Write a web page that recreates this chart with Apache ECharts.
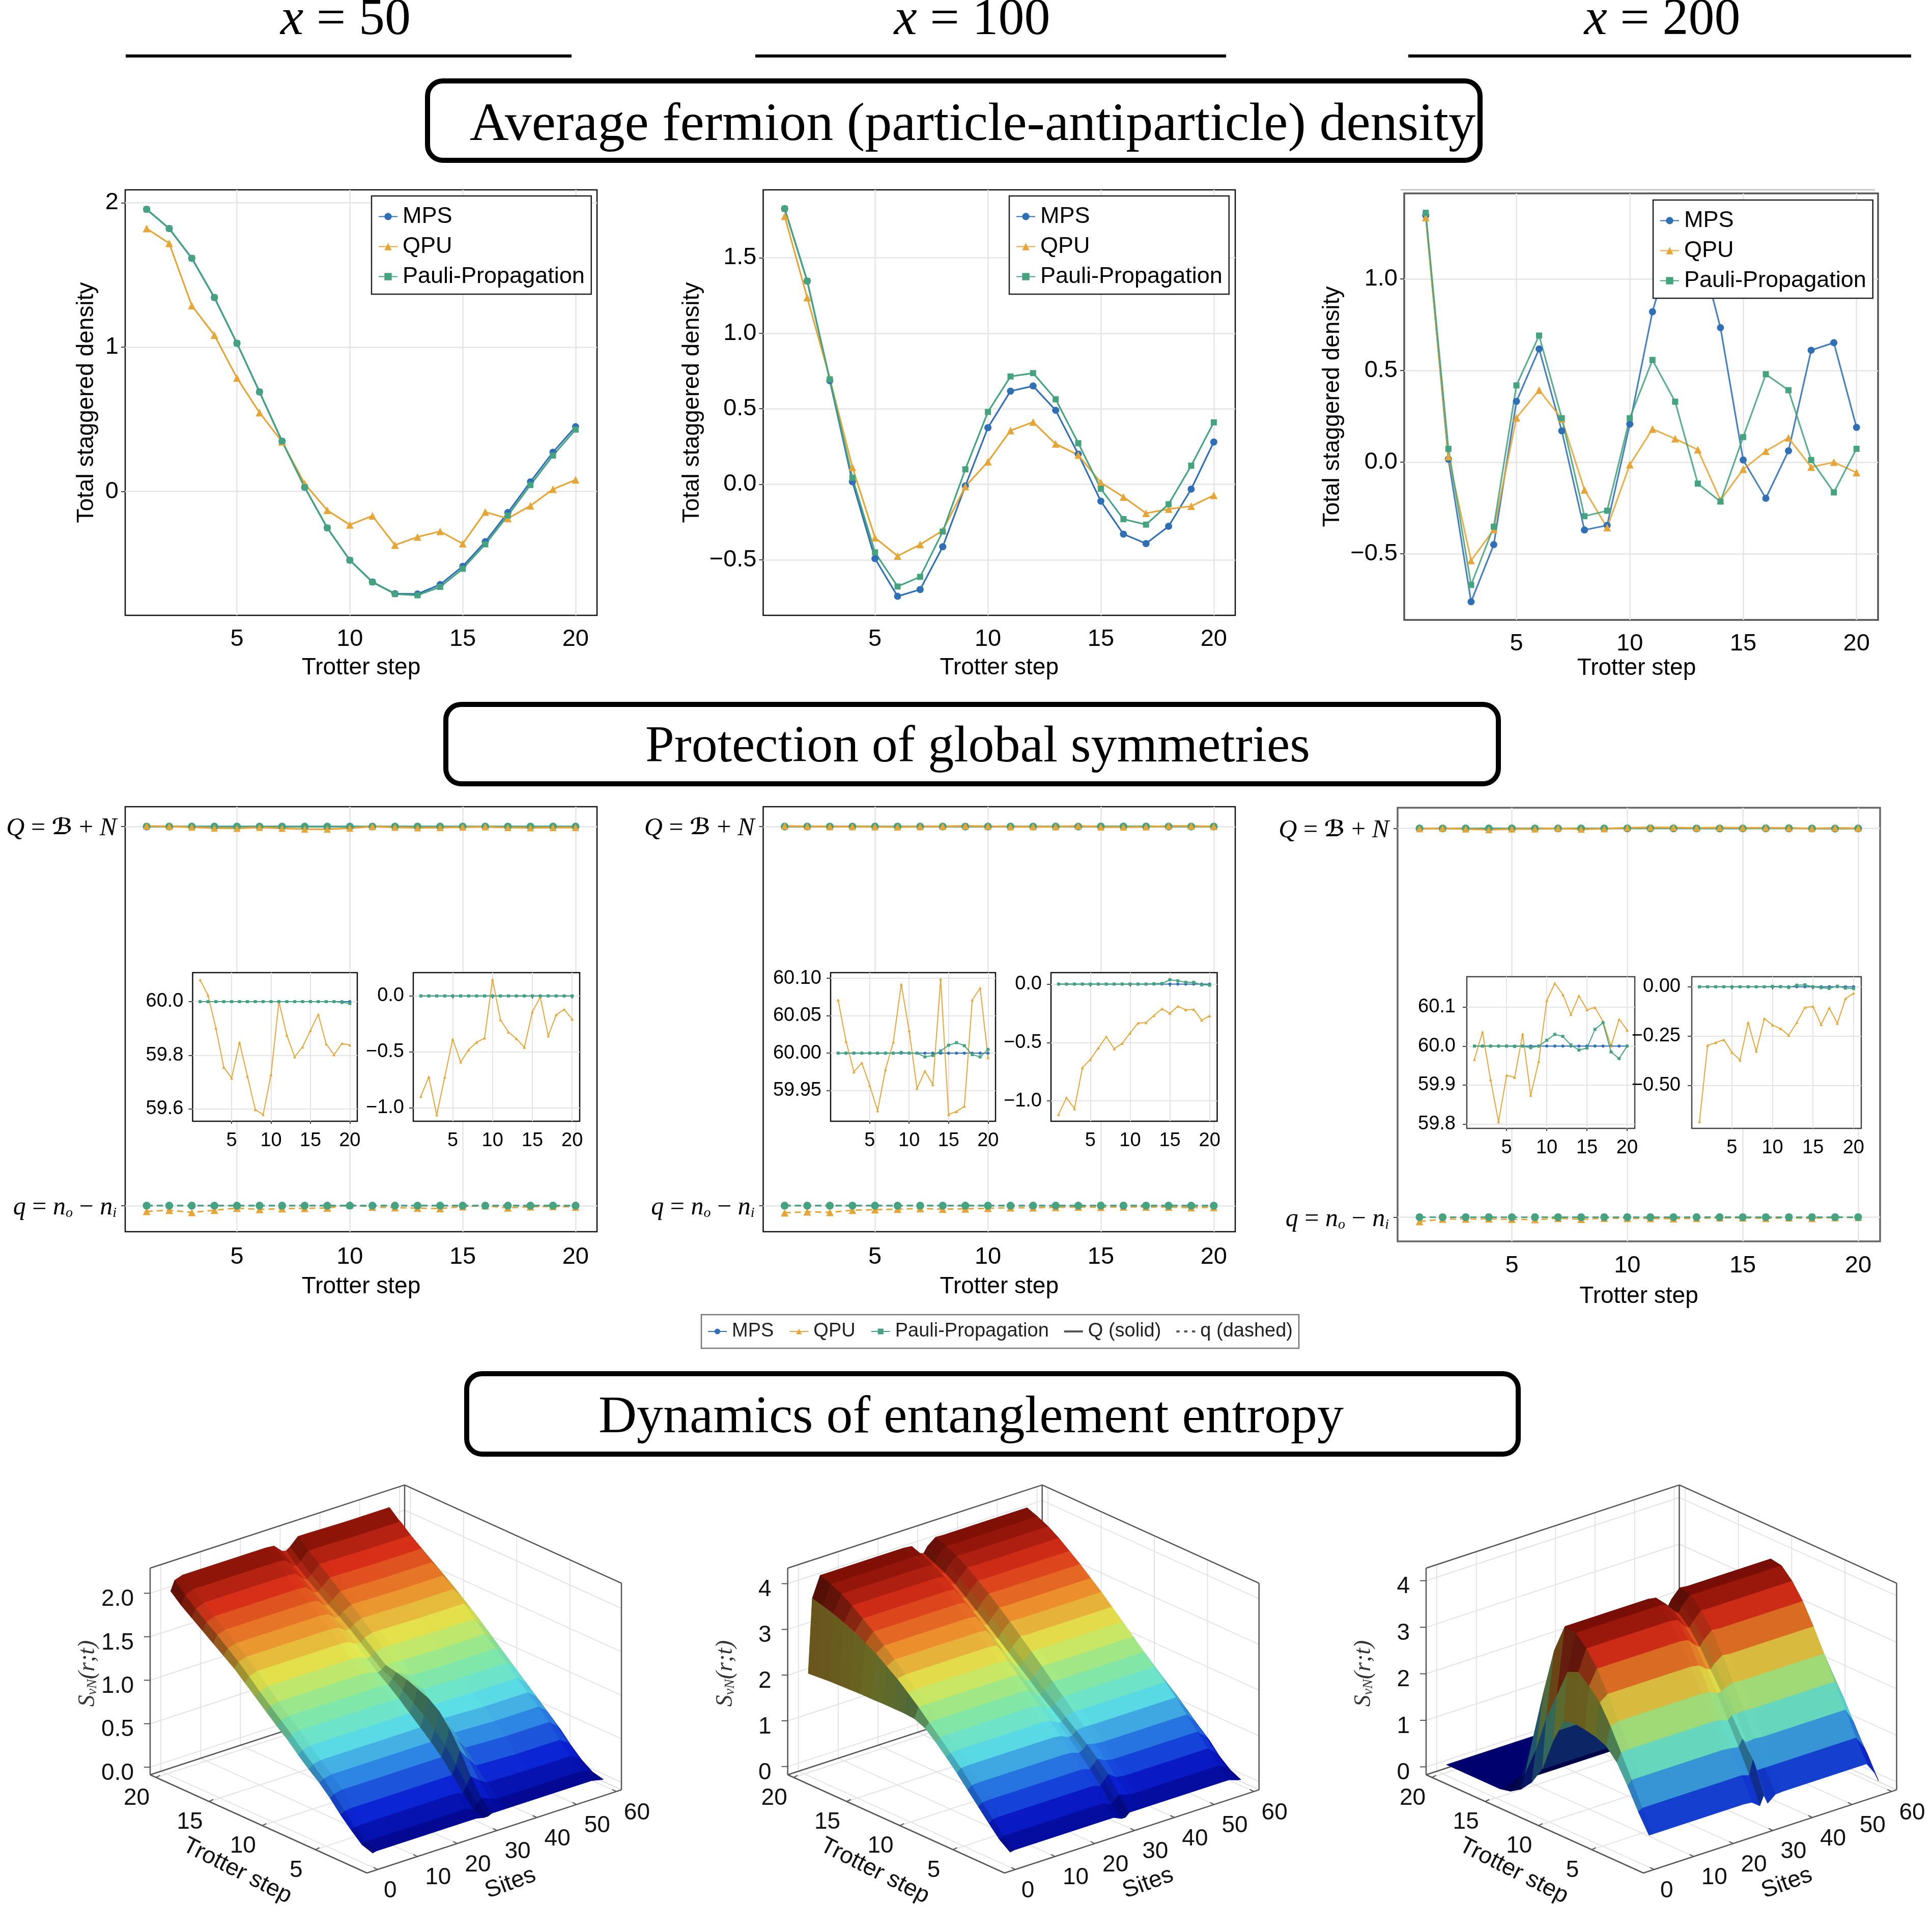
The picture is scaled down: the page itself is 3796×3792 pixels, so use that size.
<!DOCTYPE html>
<html><head><meta charset="utf-8">
<style>html,body{margin:0;padding:0;background:#fff}#c{width:3796px;height:3792px}</style>
<script src="https://cdn.jsdelivr.net/npm/echarts@6/dist/echarts.min.js"></script>
</head><body><div id="c"></div>
<script>
const steps=[1,2,3,4,5,6,7,8,9,10,11,12,13,14,15,16,17,18,19,20];
const a1_mps=[1.955,1.822,1.616,1.344,1.027,0.69,0.348,0.03,-0.252,-0.476,-0.627,-0.708,-0.71,-0.645,-0.519,-0.348,-0.146,0.067,0.272,0.449];
const a1_qpu=[1.822,1.719,1.288,1.083,0.787,0.546,0.344,0.054,-0.13,-0.231,-0.169,-0.371,-0.315,-0.276,-0.362,-0.142,-0.187,-0.099,0.016,0.081];
const a1_pp=[1.955,1.822,1.616,1.344,1.027,0.69,0.348,0.03,-0.252,-0.476,-0.627,-0.71,-0.719,-0.661,-0.535,-0.366,-0.166,0.045,0.249,0.429];
const a2_mps=[1.825,1.346,0.686,0.017,-0.492,-0.742,-0.697,-0.414,-0.011,0.375,0.617,0.651,0.49,0.2,-0.112,-0.33,-0.393,-0.278,-0.032,0.28];
const a2_qpu=[1.775,1.236,0.701,0.112,-0.354,-0.475,-0.399,-0.306,-0.015,0.149,0.356,0.412,0.267,0.194,0.011,-0.084,-0.192,-0.164,-0.145,-0.073];
const a2_pp=[1.825,1.346,0.695,0.043,-0.451,-0.677,-0.613,-0.313,0.099,0.479,0.714,0.736,0.563,0.272,-0.03,-0.231,-0.267,-0.132,0.123,0.41];
const a3_mps=[1.347,0.016,-0.762,-0.45,0.332,0.618,0.171,-0.37,-0.345,0.208,0.821,1.25,1.21,0.734,0.012,-0.197,0.062,0.611,0.652,0.19];
const a3_qpu=[1.336,0.03,-0.537,-0.368,0.242,0.393,0.236,-0.151,-0.357,-0.014,0.181,0.128,0.068,-0.208,-0.039,0.06,0.133,-0.027,0,-0.057];
const a3_pp=[1.361,0.073,-0.67,-0.352,0.419,0.691,0.24,-0.295,-0.265,0.24,0.558,0.33,-0.117,-0.215,0.137,0.48,0.393,0.012,-0.165,0.073];
const mps_Q=[60,60,60,60,60,60,60,60,60,60,60,60,60,60,60,60,60,60,60,60];
const mps_q=[0,0,0,0,0,0,0,0,0,0,0,0,0,0,0,0,0,0,0,0];
const b1_Q_qpu=[60.081,60.024,59.901,59.755,59.715,59.848,59.722,59.597,59.579,59.728,60,59.875,59.794,59.831,59.892,59.952,59.842,59.802,59.844,59.838];
const b1_Q_pp=[60,60,60,60,60,60,60,60,60,60,60,60,60,60,60,60,60,60,59.997,59.993];
const b1_q_qpu=[-0.898,-0.725,-1.064,-0.725,-0.387,-0.591,-0.482,-0.415,-0.377,0.147,-0.214,-0.323,-0.383,-0.46,-0.144,-0.01,-0.358,-0.169,-0.121,-0.208];
const b1_q_pp=[0,0,0,0,0,0,0,0,0,0,0,0,0,0,0,0,0,0,0,0];
const b2_Q_qpu=[60.071,60.016,59.975,59.987,59.957,59.923,59.978,60.015,60.092,60.03,59.953,59.976,59.958,60.099,59.918,59.922,59.929,60.071,60.087,59.994];
const b2_Q_pp=[60,60,60,60,60,60,60,60,60.001,60,60,59.995,59.997,60.003,60.0105,60.014,60.01,59.998,59.995,60.005];
const b2_q_qpu=[-1.116,-0.972,-1.067,-0.716,-0.645,-0.547,-0.45,-0.554,-0.508,-0.419,-0.333,-0.33,-0.269,-0.211,-0.251,-0.19,-0.22,-0.217,-0.309,-0.272];
const b2_q_pp=[0,0,0,0,0,0,0,0,0,0,0,0,0.003,0.005,0.037,0.028,0.015,0.015,-0.006,-0.009];
const b3_Q_qpu=[59.966,60.036,59.914,59.806,59.925,59.92,60.031,59.874,59.961,60.117,60.161,60.132,60.081,60.129,60.093,60.099,60.063,60,60.069,60.041];
const b3_Q_pp=[60,60,60,60,60,59.999,60,59.996,60,60.015,60.03,60.025,60.003,59.99,59.995,60.043,60.06,59.985,59.968,60];
const b3_q_qpu=[-0.683,-0.297,-0.283,-0.268,-0.332,-0.371,-0.181,-0.326,-0.161,-0.194,-0.212,-0.246,-0.181,-0.105,-0.1,-0.192,-0.107,-0.185,-0.06,-0.033];
const b3_q_pp=[0,0,0,0,0,0,0,0,0,0.002,0.001,-0.004,0.008,0.01,0,-0.005,-0.008,0.003,-0.007,-0.009];
const sites=[1,2,4,14,25,27,29,30,31,33,35,45,56,58,59];
const c1_S=[
[.04,.05,.05,.05,.05,.05,.03,.03,.05,.05,.05,.05,.05,.03,.02],
[.08,.10,.10,.10,.10,.10,.06,.12,.17,.13,.10,.10,.10,.07,.05],
[.19,.21,.22,.22,.22,.22,.20,.27,.36,.29,.23,.22,.22,.17,.13],
[.31,.34,.35,.35,.35,.35,.35,.45,.60,.48,.37,.35,.35,.29,.24],
[.45,.48,.50,.50,.50,.50,.50,.62,.80,.65,.52,.50,.50,.43,.37],
[.57,.60,.62,.62,.62,.62,.62,.74,.95,.78,.64,.62,.62,.55,.48],
[.67,.71,.73,.73,.73,.73,.73,.85,1.04,.88,.75,.73,.73,.66,.59],
[.78,.82,.84,.84,.84,.84,.84,.94,1.09,.96,.85,.84,.84,.77,.70],
[.90,.94,.96,.96,.96,.96,.95,1.03,1.14,1.05,.97,.96,.96,.88,.81],
[1.00,1.05,1.07,1.07,1.07,1.07,1.05,1.11,1.17,1.12,1.08,1.07,1.07,.98,.92],
[1.11,1.16,1.18,1.18,1.18,1.17,1.14,1.16,1.20,1.20,1.19,1.18,1.18,1.09,1.03],
[1.22,1.27,1.30,1.30,1.30,1.29,1.25,1.26,1.30,1.31,1.31,1.30,1.30,1.20,1.14],
[1.33,1.39,1.42,1.42,1.42,1.41,1.36,1.36,1.40,1.43,1.43,1.42,1.42,1.32,1.25],
[1.44,1.50,1.53,1.53,1.53,1.52,1.46,1.46,1.50,1.54,1.54,1.53,1.53,1.42,1.35],
[1.53,1.60,1.63,1.63,1.63,1.62,1.55,1.55,1.59,1.64,1.64,1.63,1.63,1.52,1.45],
[1.62,1.70,1.73,1.73,1.73,1.72,1.64,1.63,1.67,1.74,1.74,1.73,1.73,1.61,1.54],
[1.71,1.79,1.83,1.83,1.83,1.82,1.73,1.72,1.76,1.84,1.84,1.83,1.83,1.70,1.63],
[1.80,1.89,1.93,1.93,1.93,1.92,1.83,1.81,1.85,1.94,1.94,1.93,1.93,1.79,1.72],
[1.89,1.99,2.03,2.03,2.03,2.02,1.93,1.91,1.95,2.04,2.04,2.03,2.03,1.88,1.81],
[2.00,2.11,2.14,2.14,2.14,2.13,2.04,2.03,2.06,2.15,2.15,2.14,2.14,1.98,1.92]];
const c2_S=[
[.08,.1,.1,.1,.1,.1,.02,.02,.1,.1,.1,.1,.1,.04,.02],
[.25,.3,.3,.3,.3,.3,.22,.30,.38,.32,.3,.3,.3,.2,.13],
[.5,.56,.57,.57,.57,.57,.52,.62,.72,.60,.57,.57,.57,.42,.32],
[.76,.82,.83,.83,.83,.83,.78,.86,.95,.86,.83,.83,.83,.68,.58],
[1.02,1.09,1.1,1.1,1.1,1.09,1.03,1.08,1.16,1.12,1.1,1.1,1.1,.92,.78],
[1.28,1.36,1.37,1.37,1.37,1.35,1.27,1.28,1.36,1.38,1.37,1.37,1.37,1.12,1.0],
[1.52,1.59,1.6,1.6,1.6,1.58,1.48,1.47,1.55,1.61,1.6,1.6,1.6,1.34,1.22],
[1.75,1.82,1.83,1.83,1.83,1.81,1.68,1.66,1.74,1.84,1.83,1.83,1.83,1.54,1.42],
[1.95,2.04,2.05,2.05,2.05,2.03,1.88,1.85,1.93,2.06,2.05,2.05,2.05,1.74,1.62],
[2.05,2.27,2.28,2.28,2.28,2.26,2.09,2.06,2.14,2.29,2.28,2.28,2.28,1.95,1.83],
[2.07,2.48,2.5,2.5,2.5,2.48,2.29,2.26,2.35,2.51,2.5,2.5,2.5,2.13,2.02],
[2.07,2.68,2.72,2.72,2.72,2.7,2.49,2.46,2.56,2.73,2.72,2.72,2.72,2.32,2.2],
[2.07,2.85,2.94,2.94,2.94,2.92,2.7,2.66,2.77,2.95,2.94,2.94,2.94,2.5,2.38],
[2.06,3.02,3.14,3.14,3.14,3.12,2.89,2.86,2.97,3.15,3.14,3.14,3.14,2.68,2.56],
[2.06,3.15,3.34,3.34,3.34,3.32,3.08,3.05,3.17,3.35,3.34,3.34,3.34,2.84,2.72],
[2.05,3.28,3.52,3.52,3.52,3.5,3.27,3.24,3.36,3.53,3.52,3.52,3.52,2.98,2.86],
[2.04,3.38,3.7,3.7,3.7,3.68,3.45,3.42,3.54,3.71,3.7,3.7,3.7,3.12,3.0],
[2.03,3.47,3.85,3.85,3.85,3.83,3.6,3.57,3.7,3.86,3.85,3.85,3.85,3.26,3.14],
[2.01,3.54,3.96,3.96,3.96,3.94,3.72,3.68,3.82,3.97,3.96,3.96,3.96,3.36,3.25],
[1.99,3.6,4.05,4.05,4.05,4.03,3.82,3.79,3.92,4.06,4.05,4.05,4.05,3.46,3.35]];
const c3_S=[
[.45,.45,.45,.45,.45,.43,.3,.5,.3,.44,.45,.45,.45,.2,0],
[.85,.9,.9,.9,.9,.9,.85,1.15,.9,.9,.9,.9,.9,.65,.45],
[1.3,1.4,1.4,1.4,1.4,1.38,1.35,1.5,1.4,1.42,1.4,1.4,1.4,1.1,.85],
[1.7,1.88,1.9,1.9,1.9,1.88,1.82,1.9,1.9,1.92,1.9,1.9,1.9,1.55,1.25],
[1.95,2.35,2.4,2.4,2.4,2.38,2.3,2.3,2.36,2.42,2.4,2.4,2.4,1.95,1.65],
[2.05,2.75,2.88,2.88,2.88,2.85,2.72,2.68,2.78,2.9,2.88,2.88,2.88,2.35,1.95],
[2.1,3.0,3.32,3.32,3.32,3.29,3.12,3.06,3.18,3.34,3.32,3.32,3.32,2.7,2.3],
[2.13,3.2,3.65,3.65,3.65,3.62,3.42,3.37,3.48,3.66,3.65,3.65,3.65,3.0,2.65],
[2.08,3.1,3.88,3.88,3.88,3.85,3.64,3.58,3.72,3.89,3.88,3.88,3.88,3.2,2.92],
[1.55,2.5,3.92,3.92,3.92,3.89,3.68,3.62,3.76,3.94,3.92,3.92,3.92,3.28,3.05],
[.85,1.9,3.3,3.3,3.3,3.28,3.1,3.05,3.15,3.32,3.3,3.3,3.3,2.8,2.6],
[.45,1.1,2.3,2.3,2.3,2.28,2.15,2.1,2.2,2.32,2.3,2.3,2.3,1.95,1.8],
[.2,.5,1.2,1.2,1.2,1.18,1.1,1.08,1.15,1.2,1.2,1.2,1.2,1,.9],
[.05,.1,.3,.3,.3,.3,.28,.27,.28,.3,.3,.3,.3,.22,.2],
[0,0,.03,.03,.03,.03,.03,.03,.03,.03,.03,.03,.03,.02,0],
[0,0,0,0,0,0,0,0,0,0,0,0,0,0,0],
[0,0,0,0,0,0,0,0,0,0,0,0,0,0,0],
[0,0,0,0,0,0,0,0,0,0,0,0,0,0,0],
[0,0,0,0,0,0,0,0,0,0,0,0,0,0,0],
[0,0,0,0,0,0,0,0,0,0,0,0,0,0,0]];
const xTickValues=[5,10,15,20];
const siteTicks=[0,10,20,30,40,50,60];
const stepTicks=[5,10,15,20];
const colMPS='#2f6fb5',colQPU='#e5a637',colPP='#45a37f';
const jetStops=['#00007f','#0a20d8','#2a80e8','#5fe6e8','#8cec9c','#e6ec50','#ef8f2c','#dc3018','#7a0c04'];
const SANS='Liberation Sans',SERIF='Liberation Serif';

const chart=echarts.init(document.getElementById('c'),null,{renderer:'canvas'});
const grids=[],xAxes=[],yAxes=[],series=[];
const minus=s=>String(s).replace('-','\u2212');
function addGrid(b,o){
 const g=grids.length;
 grids.push({left:b.x0,top:b.y0,width:b.x1-b.x0,height:b.y1-b.y0,show:true,backgroundColor:'#fff',borderColor:o.frame||'#111',borderWidth:o.fw||2.5,z:o.z||0,containLabel:false,outerBoundsMode:'none'});
 const fs=o.fs||47;
 xAxes.push({type:'value',gridIndex:g,min:.05,max:20.95,z:o.z?o.z+1:undefined,
  axisLine:{show:false},axisTick:{show:true,customValues:xTickValues,length:o.xt||0,lineStyle:{color:'#444',width:2}},
  axisLabel:{customValues:xTickValues,margin:o.xm||22,fontSize:fs,fontFamily:SANS,color:'#000',hideOverlap:false},
  splitLine:{show:true,lineStyle:{color:'#e4e4e4',width:o.gw||2.5}},
  name:o.xname?'Trotter step':'',nameLocation:'middle',nameGap:o.xg||80,nameTextStyle:{fontSize:46,fontFamily:SANS,color:'#000',padding:o.xnp||0}});
 yAxes.push({type:'value',gridIndex:g,min:b.ymin,max:b.ymax,z:o.z?o.z+1:undefined,
  axisLine:{show:false},axisTick:{show:true,customValues:b.yt,length:8,lineStyle:{color:'#444',width:2}},
  axisLabel:{customValues:b.yt,margin:o.ym||13,fontSize:o.yfs||fs,fontFamily:SANS,color:'#000',hideOverlap:false,padding:o.yp||[6,0,0,0],
   formatter:o.yfmt||(v=>minus(v.toFixed(b.dec))),rich:o.rich},
  splitLine:{show:true,lineStyle:{color:'#e4e4e4',width:o.gw||2.5}},
  name:o.yname||'',nameLocation:'middle',nameGap:o.yg||57,nameTextStyle:{fontSize:46,fontFamily:SANS,color:'#000'}});
 return g;
}
function line(g,name,vals,col,sym,size,lw,o={}){
 series.push({type:'line',name,xAxisIndex:g,yAxisIndex:g,data:steps.map((s,i)=>[s,vals[i]]),symbol:sym,symbolSize:size,showSymbol:true,
  lineStyle:{color:col,width:lw,type:o.dash||'solid',opacity:o.op||1},itemStyle:{color:col},z:o.z||3,silent:true,clip:false});
}
// average density row
const rowA=[
 {b:{x0:246,x1:1173,y0:373,y1:1209,ymin:-.858,ymax:2.09,yt:[0,1,2],dec:0},yg:53,xm:24,d:[a1_mps,a1_qpu,a1_pp]},
 {b:{x0:1499.5,x1:2427,y0:373,y1:1209,ymin:-.868,ymax:1.95,yt:[-.5,0,.5,1,1.5],dec:1},yg:116,xm:24,d:[a2_mps,a2_qpu,a2_pp]},
 {b:{x0:2759,x1:3690,y0:380,y1:1218,ymin:-.861,ymax:1.467,yt:[-.5,0,.5,1],dec:1},yg:118,frame:'#555',fw:3.5,xm:24,xg:72,xnp:[0,18,0,0],d:[a3_mps,a3_qpu,a3_pp],op:.88}];
rowA.forEach(r=>{
 const g=addGrid(r.b,{xname:true,yname:'Total staggered density',yg:r.yg,frame:r.frame,fw:r.fw,xg:r.xg||80,xm:r.xm,xnp:r.xnp});
 line(g,'MPS',r.d[0],colMPS,'circle',14,3.2,{op:r.op});
 line(g,'QPU',r.d[1],colQPU,'triangle',15,3.2,{op:r.op});
 line(g,'Pauli-Propagation',r.d[2],colPP,'rect',12,3.2,{op:r.op});
});
// symmetry row
const mathRich={i:{fontFamily:SERIF,fontStyle:'italic',fontSize:50,color:'#000'},n:{fontFamily:SERIF,fontSize:50,color:'#000'},
 b:{fontFamily:'DejaVu Sans',fontStyle:'italic',fontWeight:'bold',fontSize:44,color:'#000'},
 s:{fontFamily:SERIF,fontStyle:'italic',fontSize:28,color:'#000',padding:[22,0,0,0]}};
const mathFmt=v=>v>30?'{i|Q}{n| = }{b|\u212C}{n| + }{i|N}':'{i|q}{n| = }{i|n}{s|o}{n| \u2212 }{i|n}{s|i}';
const rowB=[
 {b:{x0:246,x1:1173,y0:1585,y1:2420,ymin:-4.12,ymax:63.14,yt:[0,60],dec:0},ym:18,
  Q:b1_Q_qpu,Qp:b1_Q_pp,q:b1_q_qpu,qp:b1_q_pp,
  i1:{x0:378.5,x1:702,y0:1911,y1:2203,ymin:59.554,ymax:60.108,yt:[59.6,59.8,60],dec:1},
  i2:{x0:812,x1:1139,y0:1911,y1:2203,ymin:-1.121,ymax:.208,yt:[-1,-.5,0],dec:1}},
 {b:{x0:1499.5,x1:2427,y0:1585,y1:2420,ymin:-4.12,ymax:63.14,yt:[0,60],dec:0},ym:18,
  Q:b2_Q_qpu,Qp:b2_Q_pp,q:b2_q_qpu,qp:b2_q_pp,
  i1:{x0:1632,x1:1956,y0:1911,y1:2203,ymin:59.909,ymax:60.1076,yt:[59.95,60,60.05,60.1],dec:2},
  i2:{x0:2065,x1:2391.5,y0:1911,y1:2203,ymin:-1.174,ymax:.098,yt:[-1,-.5,0],dec:1}},
 {b:{x0:2746,x1:3694,y0:1587,y1:2439,ymin:-3.74,ymax:63.2,yt:[0,60],dec:0},frame:'#666',fw:3.5,ym:22,xm:25,
  Q:b3_Q_qpu,Qp:b3_Q_pp,q:b3_q_qpu,qp:b3_q_pp,
  i1:{x0:2882,x1:3212,y0:1919,y1:2217,ymin:59.789,ymax:60.178,yt:[59.8,59.9,60,60.1],dec:1},
  i2:{x0:3324,x1:3657,y0:1919,y1:2217,ymin:-.717,ymax:.051,yt:[-.5,-.25,0],dec:2}}];
rowB.forEach(r=>{
 const g=addGrid(r.b,{xname:true,xg:85,xm:r.xm||27,yfmt:mathFmt,rich:mathRich,ym:17,yp:[8,0,0,0],frame:r.frame,fw:r.fw});
 line(g,'MPS',mps_Q,colMPS,'circle',15,3);
 line(g,'Pauli-Propagation',r.Qp,colPP,'circle',15,3);
 line(g,'QPU',r.Q,colQPU,'triangle',14,3.5);
 line(g,'QPU',r.q,colQPU,'triangle',15,3,{dash:[12,8]});
 line(g,'MPS',mps_q,colMPS,'circle',15,3,{dash:[12,8]});
 line(g,'Pauli-Propagation',r.qp,colPP,'circle',15,3,{dash:[12,8]});
 [[r.i1,mps_Q,r.Q,r.Qp],[r.i2,mps_q,r.q,r.qp]].forEach(([b,m,q,p])=>{
  const ig=addGrid(b,{z:6,fs:38,xt:5,xm:20,ym:r.ym,yp:[5,0,0,0],gw:2,frame:r.frame==='#666'?'#444':'#111',fw:2.5});
  line(ig,'MPS',m,colMPS,'circle',6,2,{z:8});
  line(ig,'QPU',q,colQPU,'triangle',6,2,{z:8});
  line(ig,'Pauli-Propagation',p,colPP,'rect',6,2,{z:8});
 });
});
// legend-only entries
series.push({type:'line',name:'Q (solid)',xAxisIndex:0,yAxisIndex:0,data:[],symbol:'none',showSymbol:false,lineStyle:{color:'#555',width:4},itemStyle:{color:'#555'}});
series.push({type:'line',name:'q (dashed)',xAxisIndex:0,yAxisIndex:0,data:[],symbol:'none',showSymbol:false,lineStyle:{color:'#555',width:3,type:[4,7]},itemStyle:{color:'#555'}});

// 3D entropy panels, orthographic box
const jet=v=>echarts.color.lerp(Math.max(0,Math.min(1,v)),jetStops,false);
const box3d=[
 {F:[721,3680],U:[500,-163.4],V:[-426,-193],H:406,s:[-2.7,61.3],t:[.15,20.55],z:[-.087,2.289],zt:[0,.5,1,1.5,2],dec:1,zmax:2.15,S:c1_S},
 {F:[1973.7,3680],U:[500,-163.4],V:[-426,-193],H:406,s:[-2.7,61.3],t:[.15,20.55],z:[-.18,4.34],zt:[0,1,2,3,4],dec:0,zmax:4.06,S:c2_S},
 {F:[3229,3680],U:[497.5,-163.4],V:[-427,-193],H:406,s:[-2.7,61.3],t:[.15,20.55],z:[-.17,4.27],zt:[0,1,2,3,4],dec:0,zmax:3.94,S:c3_S}];
const lm=echarts.number.linearMap;
box3d.forEach(p=>{
 const P=(s,t,z)=>{const a=lm(s,p.s,[0,1]),b=lm(t,p.t,[0,1]),c=lm(z,p.z,[0,1]);
  return [p.F[0]+a*p.U[0]+b*p.V[0],p.F[1]+a*p.U[1]+b*p.V[1]-c*p.H];};
 const seg=(A,B,col,w)=>({type:'line',shape:{x1:A[0],y1:A[1],x2:B[0],y2:B[1]},style:{stroke:col,lineWidth:w},silent:true});
 const txt=(x,y,text,align,extra={},rot)=>({type:'text',x,y,rotation:rot||0,silent:true,style:Object.assign({text,fill:'#111',font:'46px "'+SANS+'"',textFill:'#111',align,textAlign:align,verticalAlign:'middle',textVerticalAlign:'middle'},extra)});
 series.push({type:'custom',coordinateSystem:'none',data:[[0]],z:1,silent:true,renderItem(){
  const [s0,s1]=p.s,[t0,t1]=p.t,[z0,z1]=p.z,ch=[],G='#e3e3e3',D='#555';
  siteTicks.forEach(v=>{ch.push(seg(P(v,t0,z0),P(v,t1,z0),G,2),seg(P(v,t1,z0),P(v,t1,z1),G,2));});
  stepTicks.forEach(v=>{ch.push(seg(P(s0,v,z0),P(s1,v,z0),G,2),seg(P(s1,v,z0),P(s1,v,z1),G,2));});
  p.zt.forEach(v=>{ch.push(seg(P(s0,t1,v),P(s1,t1,v),G,2),seg(P(s1,t1,v),P(s1,t0,v),G,2));});
  ch.push(seg(P(s0,t1,z0),P(s1,t1,z0),D,2.5),seg(P(s1,t1,z0),P(s1,t0,z0),'#bbb',1),
   seg(P(s1,t1,z0),P(s1,t1,z1),D,2.5),seg(P(s0,t1,z1),P(s1,t1,z1),D,2.5),seg(P(s1,t1,z1),P(s1,t0,z1),D,2.5),
   seg(P(s0,t1,z0),P(s0,t1,z1),D,2.5),seg(P(s1,t0,z0),P(s1,t0,z1),D,2.5),
   seg(P(s0,t0,z0),P(s1,t0,z0),D,2.5),seg(P(s0,t0,z0),P(s0,t1,z0),D,2.5));
  siteTicks.forEach(v=>{const a=P(v,t0,z0);ch.push(seg(a,[a[0]-8,a[1]-4],D,2),txt(a[0]+(v?15:12),a[1]+42,String(v),'left'));});
  stepTicks.forEach(v=>{const a=P(s0,v,z0);ch.push(seg(a,[a[0]+8,a[1]-4],D,2),txt(a[0]-38,a[1]+41,String(v),'center'));});
  p.zt.forEach(v=>{const a=P(s0,t1,v);ch.push(seg(a,[a[0]-12,a[1]],D,2),txt(a[0]-32,a[1]+12,minus(v.toFixed(p.dec)),'right'));});
  const F=P(s0,t0,z0),L=P(s0,t1,z0);
  ch.push(txt(F[0]-255,F[1]-4,'Trotter step','center',{},-.47));
  ch.push(txt(F[0]+282,F[1]+20,'Sites','center',{},.35));
  ch.push(txt(L[0]-122,3288,'{a|S}{b|vN}{a|(r;t)}','center',{rich:{a:{fontFamily:SERIF,fontStyle:'italic',fontSize:46,fill:'#333',color:'#333'},b:{fontFamily:SERIF,fontStyle:'italic',fontSize:28,fill:'#333',color:'#333',padding:[18,0,0,0]}}},Math.PI/2));
  return {type:'group',children:ch};
 }});
 const quads=[];
 for(let j=p.S.length-2;j>=0;j--)for(let i=sites.length-2;i>=0;i--)quads.push([i,j]);
 series.push({type:'custom',coordinateSystem:'none',data:quads,z:2,silent:true,progressive:0,renderItem(params,api){
  const i=api.value(0),j=api.value(1),S=p.S;
  const a=S[j][i],b=S[j][i+1],c=S[j+1][i+1],d=S[j+1][i];
  const zs=p.z[1]-p.z[0],ds=(sites[i+1]-sites[i])/(p.s[1]-p.s[0]),dt=(steps[j+1]-steps[j])/(p.t[1]-p.t[0]);
  const gs=((b+c-a-d)/2/zs)/ds,gt=((c+d-a-b)/2/zs)/dt,nn=Math.hypot(gs,gt,1);
  const dot=(-gs*.25+gt*.6+.75)/nn/.99;
  const br=.45+.55*Math.max(0,Math.min(1,dot));
  const rgba=echarts.color.parse(jet((a+b+c+d)/4/p.zmax));
  const mix=rgba.slice(0,3).map(v=>Math.round(v*br));
  const col='rgb('+mix.join(',')+')';
  return {type:'polygon',shape:{points:[P(sites[i],steps[j],a),P(sites[i+1],steps[j],b),P(sites[i+1],steps[j+1],c),P(sites[i],steps[j+1],d)]},style:{fill:col,stroke:col,lineWidth:1},silent:true};
 }});
});
// legends
const leg=(left,top)=>({orient:'vertical',left,top,data:['MPS','QPU','Pauli-Propagation'],backgroundColor:'#fff',borderColor:'#222',borderWidth:2.5,
 padding:[18,13,12,13],itemWidth:37,itemHeight:18,itemGap:14,selectedMode:false,z:20,textStyle:{fontSize:45,fontFamily:SANS,color:'#000',padding:[0,0,0,5]}});
const legends=[leg(730,385),leg(1983,385),leg(3248,393),
 {orient:'horizontal',left:1378,top:2583,data:['MPS','QPU','Pauli-Propagation',{name:'Q (solid)',icon:'path://M0,0H37V4H0Z'},{name:'q (dashed)',icon:'path://M0,0H5V3H0ZM12,0H17V3H12ZM24,0H29V3H24Z'}],backgroundColor:'#fff',borderColor:'#777',borderWidth:2.5,
  padding:[14,12,14,12],itemWidth:37,itemHeight:14,itemGap:30,selectedMode:false,z:20,textStyle:{fontSize:38,fontFamily:SANS,color:'#222',padding:[0,0,0,5]}}];
// headings
const gText=(x,y,text,fs,extra={})=>({type:'text',x,y,silent:true,style:Object.assign({text,font:fs+'px "'+SERIF+'"',fill:'#000',textAlign:'center',textVerticalAlign:'middle'},extra)});
const head=(cx,label)=>gText(cx,40,'{i|x}{n| = '+label+'}',102,{rich:{i:{fontFamily:SERIF,fontStyle:'italic',fontSize:102,fill:'#000',color:'#000'},n:{fontFamily:SERIF,fontSize:102,fill:'#000',color:'#000'}}});
const gLine=(x1,x2,y)=>({type:'line',silent:true,shape:{x1,y1:y,x2,y2:y},style:{stroke:'#000',lineWidth:6}});
const gBox=(x,y,w,h)=>({type:'rect',silent:true,shape:{x,y,width:w,height:h,r:30},style:{fill:'#fff',stroke:'#000',lineWidth:10}});
const graphics=[head(679,'50'),head(1910,'100'),head(3266,'200'),
 gLine(247,1123,110),gLine(1484,2409,110),gLine(2767,3755,110),
 gBox(840,159,2068,156),gText(1911,247,'Average fermion (particle-antiparticle) density',106.2),
 gBox(876,1384,2068,156),gText(1921,1469,'Protection of global symmetries',102),
 gBox(917,2699,2066,158),gText(1908,2787,'Dynamics of entanglement entropy',104),
 {type:'line',silent:true,shape:{x1:2752,y1:373,x2:3684,y2:373},style:{stroke:'#999',lineWidth:1.5}}];
chart.setOption({animation:false,backgroundColor:'#fff',tooltip:{show:false},grid:grids,xAxis:xAxes,yAxis:yAxes,series,legend:legends,graphic:{elements:graphics}});
</script></body></html>
